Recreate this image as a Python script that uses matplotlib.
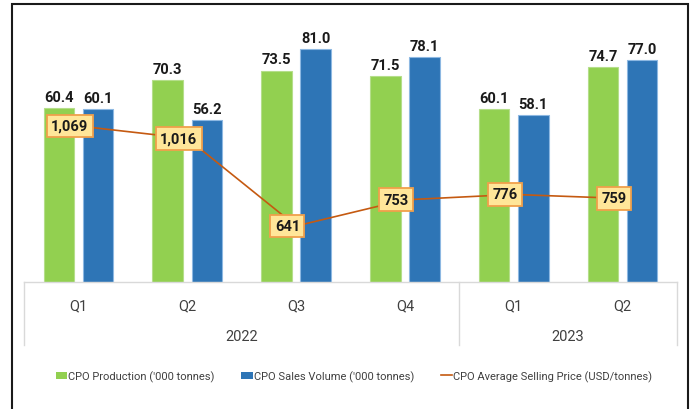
#!/usr/bin/env python3

import numpy as np
import matplotlib
matplotlib.use("Agg")
import matplotlib.pyplot as plt
from matplotlib.patches import Patch, Rectangle
from matplotlib.lines import Line2D
from matplotlib.transforms import blended_transform_factory

plt.rcParams["font.family"] = ["Roboto", "DejaVu Sans"]

# --- data ---------------------------------------------------------------
quarters = ["Q1", "Q2", "Q3", "Q4", "Q1", "Q2"]
years = ["2022", "2023"]
year_span = [4, 2]          # number of quarters per year
production = [60.4, 70.3, 73.5, 71.5, 60.1, 74.7]
sales = [60.1, 56.2, 81.0, 78.1, 58.1, 77.0]
price = [1069, 1016, 641, 753, 776, 759]

GREEN = "#92D050"
BLUE = "#2E75B6"
ORANGE = "#C55A11"
TXT = "#404040"

# --- figure ---------------------------------------------------------------
W, H = 693, 410
fig = plt.figure(figsize=(W / 100, H / 100), dpi=100)
ax_left, ax_right, ax_bot, ax_top = 24, 677, 283.3, 20
ax = fig.add_axes([ax_left / W, 1 - ax_bot / H,
                   (ax_right - ax_left) / W, (ax_bot - ax_top) / H])

x = np.arange(len(quarters))
w = 0.28
gap = 0.08
b1 = ax.bar(x - (w + gap) / 2, production, w, color=GREEN,
            edgecolor="#B5DE8A", linewidth=0.8, zorder=2)
b2 = ax.bar(x + (w + gap) / 2, sales, w, color=BLUE,
            edgecolor="#8DB8E2", linewidth=0.8, zorder=2)
for bars in (b1, b2):
    ax.bar_label(bars, fmt="%.1f", padding=3, fontsize=10.5,
                 fontweight="bold", color="#1A1A1A")

ax.set_xlim(-0.5, len(quarters) - 0.5)
ax.set_ylim(0, 91.4)
ax.set_yticks([])
ax.set_xticks([])
for s in ("top", "left", "right"):
    ax.spines[s].set_visible(False)
ax.spines["bottom"].set_color("#D9D9D9")
ax.spines["bottom"].set_linewidth(1.0)

# category axis: quarter labels, year labels, separators
tr = blended_transform_factory(ax.transData, ax.transAxes)
axh = ax_bot - ax_top
for xi, q in zip(x, quarters):
    ax.text(xi, -(306 - ax_bot) / axh, q, transform=tr, ha="center",
            va="center", fontsize=10.5, color=TXT)
start = 0
seps = [-0.5]
for yr, n in zip(years, year_span):
    ax.text(start + (n - 1) / 2, -(337 - ax_bot) / axh, yr, transform=tr,
            ha="center", va="center", fontsize=10.5, color=TXT)
    start += n
    seps.append(start - 0.5)
for sx in seps:
    ax.plot([sx, sx], [0, -(346 - ax_bot) / axh], transform=tr,
            color="#D9D9D9", lw=1.0, clip_on=False)

# price line on secondary axis
ax2 = ax.twinx()
ax2.set_ylim(400, 1527)
ax2.plot(x, price, color=ORANGE, lw=1.2, zorder=3)
for xi, v in zip(x, price):
    ax2.text(xi - 0.08, v, f"{v:,}", ha="center", va="center",
             fontsize=10.5, fontweight="bold", color="#1A1A1A", zorder=4,
             bbox=dict(boxstyle="square,pad=0.3", facecolor="#FFE699",
                       edgecolor="#F0A04B", linewidth=1.3))
ax2.set_yticks([])
for s in ax2.spines.values():
    s.set_visible(False)

# legend
handles = [
    Patch(facecolor=GREEN, edgecolor="none"),
    Patch(facecolor=BLUE, edgecolor="none"),
    Line2D([0], [0], color=ORANGE, lw=1.2),
]
labels = ["CPO Production ('000 tonnes)", "CPO Sales Volume ('000 tonnes)",
          "CPO Average Selling Price (USD/tonnes)"]
fig.legend(handles, labels, loc="center", ncol=3,
           bbox_to_anchor=(354 / W, 1 - 377 / H), frameon=False,
           fontsize=8, labelcolor=TXT, handlelength=1.0, handleheight=0.6,
           handletextpad=0.1, columnspacing=2.4)

# outer frame
fig.patches.append(Rectangle((12 / W, -0.05), (688 - 12) / W, 1.05 - 5 / H,
                             transform=fig.transFigure, fill=False,
                             edgecolor="#1A1A1A", linewidth=1.5))

fig.savefig("out.png", dpi=100)
